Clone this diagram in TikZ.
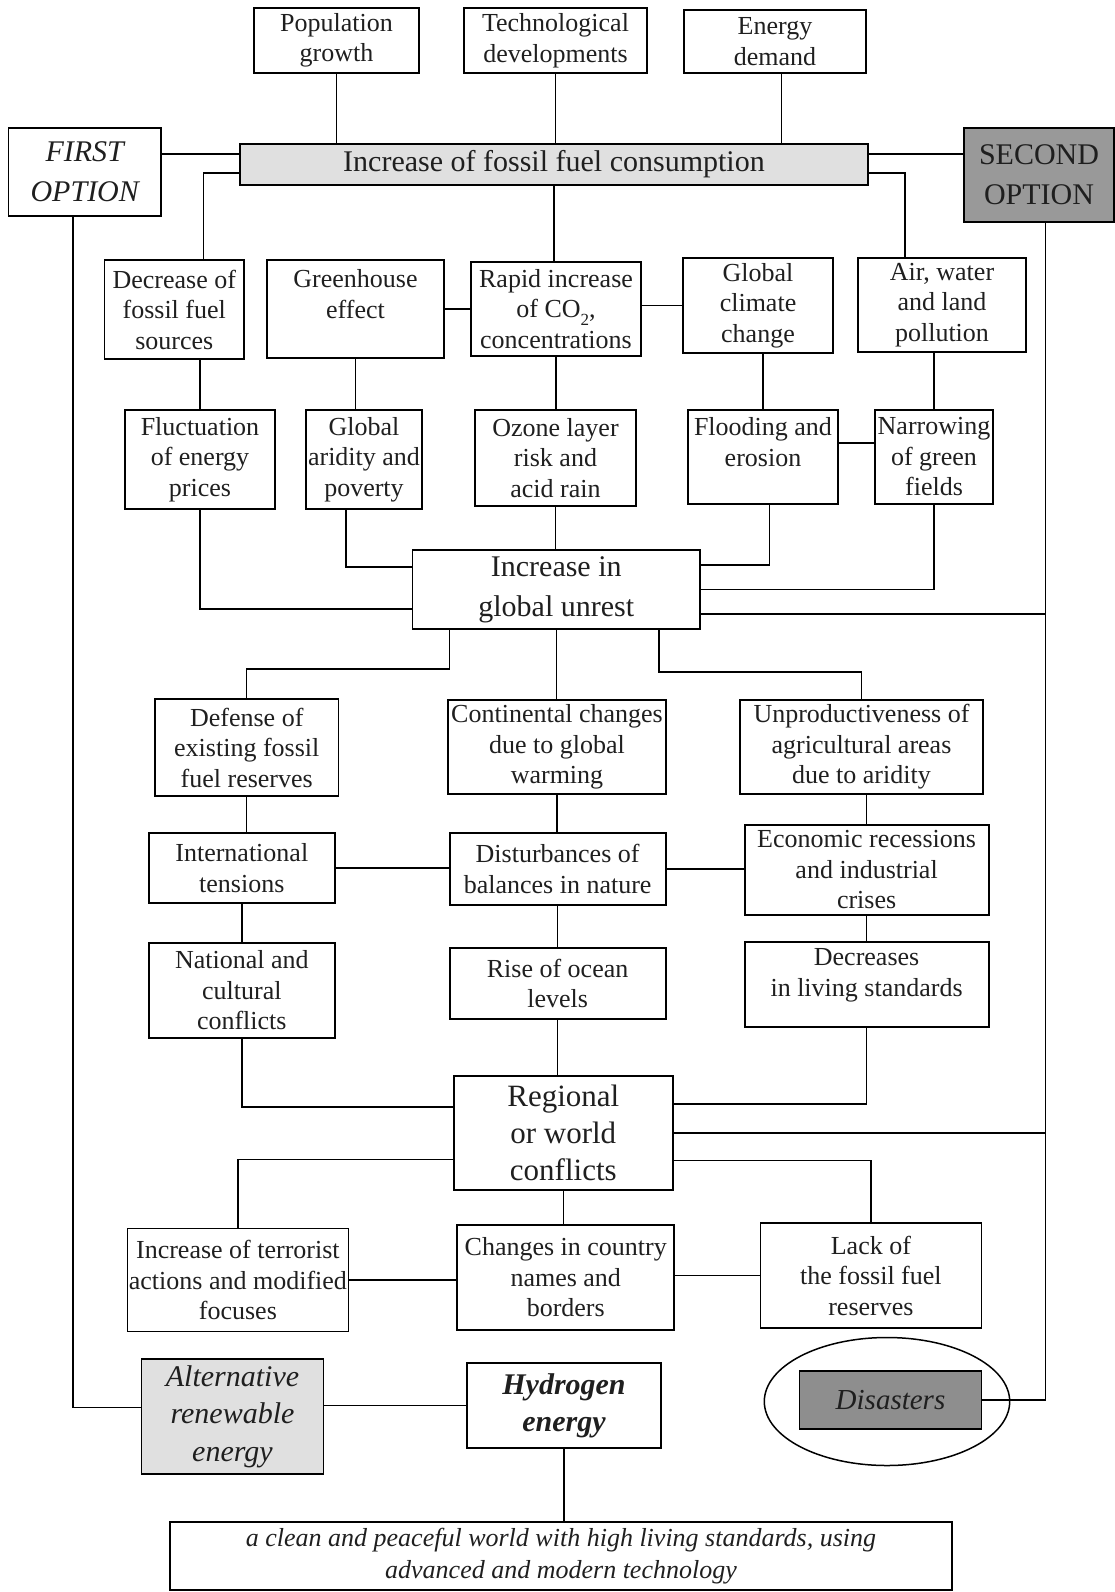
\documentclass[tikz,border=0pt]{standalone}
\usepackage{fontspec}
\setmainfont{Liberation Serif}
\usetikzlibrary{shapes.geometric}
\definecolor{paleGray}{HTML}{E0E0E0}
\definecolor{midGray}{HTML}{999999}
\definecolor{disGray}{HTML}{8E8E8E}
\newcommand{\subTwo}{\raisebox{-0.28em}{\fontsize{17}{17}\selectfont 2}}

\begin{document}
\begin{tikzpicture}[x=1pt,y=-1pt,
  box/.style={draw, line width=1.8pt, inner sep=0pt, align=center,
    text=black!88, font=\fontsize{26}{30.5}\selectfont},
  bigbox/.style={box, font=\fontsize{30}{40}\selectfont},
  link/.style={draw, line width=1.4pt},
  wh/.style={minimum width=#1},
  ht/.style={minimum height=#1}]
\useasboundingbox (0,0) rectangle (1115,1592);

% ---------- driving factors ----------
\node[box, wh=165pt, ht=65pt] (pop) at (336.5,40.5) {Population\\growth};
\node[box, wh=183pt, ht=65pt] (tech) at (555.5,40.5) {Technological\\developments};
\node[box, wh=182pt, ht=63pt] (energy) at (775,41.5) {Energy\\demand};

\node[bigbox, wh=152.5pt, ht=88pt, font=\fontsize{30}{40}\selectfont\itshape] (first) at (84.75,172) {FIRST\\OPTION};
\node[bigbox, fill=paleGray, wh=628pt, ht=41pt] (main) at (554,164.5) {Increase of fossil fuel consumption};
\node[bigbox, fill=midGray, wh=150pt, ht=94pt] (second) at (1039,175) {SECOND\\OPTION};

% ---------- direct consequences ----------
\node[box, wh=139.5pt, ht=99pt] (dec) at (174.25,309.5) {Decrease of\\fossil fuel\\sources};
\node[box, wh=177pt, ht=98pt] (green) at (355.5,309) {Greenhouse\\effect\\\mbox{}};
\node[box, wh=170pt, ht=94pt] (rapid) at (556,309) {Rapid increase\\of CO\subTwo,\\concentrations};
\node[box, wh=150pt, ht=95pt] (climate) at (758,305.5) {Global\\climate\\change};
\node[box, wh=168pt, ht=94pt] (air) at (942,305) {Air, water\\and land\\pollution};

\node[box, wh=150pt, ht=99pt] (fluct) at (200,459.5) {Fluctuation\\of energy\\prices};
\node[box, wh=116pt, ht=99pt] (arid) at (364,459.5) {Global\\aridity and\\poverty};
\node[box, wh=161pt, ht=96pt] (ozone) at (555.5,458) {Ozone layer\\risk and\\acid rain};
\node[box, wh=150pt, ht=94pt] (flood) at (763,457) {Flooding and\\erosion\\\mbox{}};
\node[box, wh=118pt, ht=94pt] (narrow) at (934,457) {Narrowing\\of green\\fields};

\node[bigbox, wh=287.5pt, ht=79pt] (unrest) at (556.25,589.5) {Increase in\\global unrest};

% ---------- second-order effects ----------
\node[box, wh=183.5pt, ht=97pt] (defense) at (246.75,747.5) {Defense of\\existing fossil\\fuel reserves};
\node[box, wh=218pt, ht=94pt] (cont) at (557,747) {Continental changes\\due to global\\warming};
\node[box, wh=243pt, ht=94pt] (unprod) at (861.5,747) {Unproductiveness of\\agricultural areas\\due to aridity};

\node[box, wh=186.4pt, ht=70pt] (intl) at (241.8,868) {International\\tensions};
\node[box, wh=216pt, ht=72pt] (dist) at (557.6,869) {Disturbances of\\balances in nature};
\node[box, wh=244pt, ht=90pt] (econ) at (866.6,870) {Economic recessions\\and industrial\\crises};

\node[box, wh=186.4pt, ht=95pt] (natl) at (241.8,990.5) {National and\\cultural\\conflicts};
\node[box, wh=216pt, ht=71pt] (rise) at (557.6,983.5) {Rise of ocean\\levels};
\node[box, wh=244pt, ht=85pt] (decr) at (866.6,984.5) {Decreases\\in living standards\\[-6pt]\mbox{}};

\node[box, wh=219pt, ht=114.3pt, font=\fontsize{31}{37}\selectfont] (regional) at (563.3,1132.85) {Regional\\or world\\conflicts};

\node[box, wh=221pt, ht=103pt] (terror) at (237.9,1280) {Increase of terrorist\\actions and modified\\focuses};
\node[box, wh=217pt, ht=105pt] (changes) at (565.75,1277.5) {Changes in country\\names and\\borders};
\node[box, wh=221pt, ht=105.6pt] (lack) at (870.9,1275.5) {Lack of\\the fossil fuel\\reserves};

% ---------- outcomes ----------
\node[box, fill=paleGray, wh=182pt, ht=114.7pt, font=\fontsize{30}{37.5}\selectfont\itshape] (alt) at (232.5,1416.4) {Alternative\\renewable\\energy};
\node[box, wh=193.4pt, ht=85.6pt, font=\fontsize{30}{37}\selectfont\bfseries\itshape] (hyd) at (564,1405.5) {Hydrogen\\energy};
\node[draw, line width=1.5pt, ellipse, minimum width=245.4pt, minimum height=128pt, inner sep=0pt] (ring) at (887,1401.5) {};
\node[box, fill=disGray, wh=182pt, ht=58.6pt, font=\fontsize{29}{35}\selectfont\itshape] (dis) at (890.5,1400) {Disasters};
\node[box, wh=782pt, ht=68pt, font=\fontsize{26}{31.5}\selectfont\itshape] (final) at (561,1556) {a clean and peaceful world with high living standards, using\\advanced and modern technology};

% ---------- connector anchor points ----------
\coordinate (eS) at ([xshift=6.5pt]energy.south);
\coordinate (fE) at ([yshift=18pt]first.east);
\coordinate (sW) at ([yshift=21pt]second.west);
\coordinate (mL) at ([yshift=-8.5pt]main.west);
\coordinate (mR) at ([yshift=-8.5pt]main.east);
\coordinate (decT) at ([xshift=29pt]dec.north);
\coordinate (airT) at ([xshift=-37pt]air.north);
\coordinate (fB) at ([xshift=-11.75pt]first.south);
\coordinate (sB) at ([xshift=6.5pt]second.south);
\coordinate (fn) at ([yshift=14pt]flood.east);
\coordinate (u1) at ([yshift=-19.5pt]unrest.west);
\coordinate (u2) at ([yshift=22.5pt]unrest.west);
\coordinate (u3) at ([yshift=24.5pt]unrest.east);
\coordinate (u5) at ([yshift=-24.5pt]unrest.east);
\coordinate (aB) at ([xshift=-18pt]arid.south);
\coordinate (flB) at ([xshift=6.5pt]flood.south);
\coordinate (b1) at ([xshift=-106.75pt]unrest.south);
\coordinate (b3) at ([xshift=102.75pt]unrest.south);
\coordinate (r1) at ([yshift=26pt]regional.west);
\coordinate (r2) at ([yshift=29pt]regional.east);
\coordinate (r3) at ([yshift=-26.5pt]regional.west);
\coordinate (r4) at ([yshift=-27.5pt]regional.east);
\coordinate (altL) at ([yshift=9pt]alt.west);

% ---------- connectors ----------
\draw[link] (pop.south) -- (pop.south |- main.north);
\draw[link] (tech.south) -- (tech.south |- main.north);
\draw[link] (eS) -- (eS |- main.north);
\draw[link] (fE) -- (fE -| main.west);
\draw[link] (sW) -- (sW -| main.east);
\draw[link] (mL) -| (decT);
\draw[link] (mR) -| (airT);
\draw[link] (main.south) -- (main.south |- rapid.north);
\draw[link] (fB) |- (altL);
\draw[link] (dis.east) -| (sB);

\draw[link] (green.east) -- (rapid.west);
\draw[link] (climate.west) -- (climate.west -| rapid.east);
\draw[link] (fluct.north) -- (fluct.north |- dec.south);
\draw[link] (green.south) -- (green.south |- arid.north);
\draw[link] (rapid.south) -- (rapid.south |- ozone.north);
\draw[link] (flood.north) -- (flood.north |- climate.south);
\draw[link] (narrow.north) -- (narrow.north |- air.south);
\draw[link] (fn) -- (fn -| narrow.west);

\draw[link] (fluct.south) |- (u1);
\draw[link] (aB) |- (u2);
\draw[link] (ozone.south) -- (ozone.south |- unrest.north);
\draw[link] (flB) |- (u3);
\draw[link] (narrow.south) |- (unrest.east);
\draw[link] (u5) -- (u5 -| sB);

\draw[link] (b1) -- ++(0,39) -| (defense.north);
\draw[link] (unrest.south) -- (unrest.south |- cont.north);
\draw[link] (b3) -- ++(0,42) -| (unprod.north);

\draw[link] (defense.south) -- (defense.south |- intl.north);
\draw[link] (cont.south) -- (cont.south |- dist.north);
\draw[link] (econ.north) -- (econ.north |- unprod.south);
\draw[link] (intl.east) -- (intl.east -| dist.west);
\draw[link] (dist.east) -- (dist.east -| econ.west);
\draw[link] (intl.south) -- (natl.north);
\draw[link] (dist.south) -- (dist.south |- rise.north);
\draw[link] (econ.south) -- (econ.south |- decr.north);

\draw[link] (natl.south) |- (r1);
\draw[link] (rise.south) -- (rise.south |- regional.north);
\draw[link] (r2) -| (decr.south);
\draw[link] (regional.east) -- (regional.east -| sB);
\draw[link] (r3) -| (terror.north);
\draw[link] (r4) -| (lack.north);
\draw[link] (regional.south) -- (regional.south |- changes.north);
\draw[link] (terror.east) -- (terror.east -| changes.west);
\draw[link] (lack.west) -- (lack.west -| changes.east);

\draw[link] (hyd.west) -- (hyd.west -| alt.east);
\draw[link] (hyd.south) -- (hyd.south |- final.north);
\end{tikzpicture}
\end{document}
